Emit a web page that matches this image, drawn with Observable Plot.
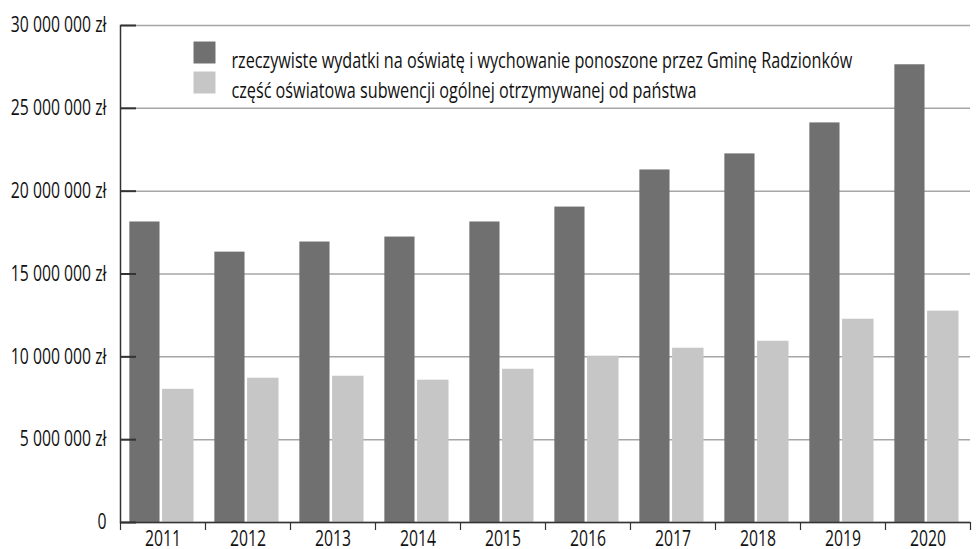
<!DOCTYPE html>
<html>
<head>
<meta charset="utf-8">
<script src="https://cdn.jsdelivr.net/npm/d3@7"></script>
<script src="https://cdn.jsdelivr.net/npm/@observablehq/plot@0.6"></script>
<style>
  html, body { margin: 0; padding: 0; background: #fff; }
  #chart svg { font-family: "Open Sans", "Liberation Sans", sans-serif; }
</style>
</head>
<body>
<div id="chart"></div>
<script>
// ---- data ----
const years = [2011, 2012, 2013, 2014, 2015, 2016, 2017, 2018, 2019, 2020];
const expenses = [18140000, 16320000, 16930000, 17230000, 18140000, 19040000, 21280000, 22250000, 24120000, 27630000];
const subsidy = [8040000, 8710000, 8830000, 8590000, 9250000, 10040000, 10520000, 10940000, 12270000, 12760000];
const seriesNames = [
  "rzeczywiste wydatki na oświatę i wychowanie ponoszone przez Gminę Radzionków",
  "część oświatowa subwencji ogólnej otrzymywanej od państwa"
];
const yTicks = [0, 5000000, 10000000, 15000000, 20000000, 25000000, 30000000];

// ---- styles ----
const colors = ["#707070", "#c6c6c6"];
const offsets = [[-0.39, -0.035], [-0.005, 0.365]];
const axisColor = "#333";
const gridColor = "#a6a6a6";
const fontSize = 21;
const legendFontSize = 21.6;
const condense = 0.75;

const rows = years.flatMap((year, i) => [
  {year, s: 0, value: expenses[i]},
  {year, s: 1, value: subsidy[i]}
]);
const boundaries = [years[0] - 0.5, ...years.map(y => y + 0.5)];
const fmtY = d => d === 0 ? "0" : d3.format(",")(d).replace(/,/g, " ") + " zł";

const legendMarks = seriesNames.flatMap((name, i) => [
  Plot.dot([name], {frameAnchor: "top-left", dx: 84, dy: 27 + i * 30, symbol: "square", r: 12.4, fill: colors[i], stroke: "none"}),
  Plot.text([name], {frameAnchor: "top-left", dx: 111, dy: 27 + i * 30, text: d => d, textAnchor: "start", fontSize: legendFontSize, fill: "#111"})
]);

const chart = Plot.plot({
  width: 977,
  height: 549,
  marginLeft: 120,
  marginRight: 7,
  marginTop: 25,
  marginBottom: 27,
  x: {type: "linear", domain: [boundaries[0], boundaries[boundaries.length - 1]], axis: null},
  y: {domain: [0, 30000000], axis: null},
  marks: [
    Plot.gridY(yTicks, {stroke: gridColor, strokeOpacity: 1, strokeWidth: 1.5}),
    Plot.rectY(rows, {
      x1: d => d.year + offsets[d.s][0],
      x2: d => d.year + offsets[d.s][1],
      y1: 0,
      y2: "value",
      fill: d => colors[d.s]
    }),
    Plot.axisY(yTicks, {anchor: "left", label: null, tickSize: 0, tickPadding: 14, tickFormat: fmtY, fontSize, fill: "#111"}),
    Plot.axisY(yTicks, {anchor: "right", label: null, frameAnchor: "left", tickSize: 15, text: null, stroke: axisColor, strokeWidth: 2}),
    Plot.frame({anchor: "left", stroke: axisColor, strokeWidth: 1.5}),
    Plot.ruleY([0], {stroke: axisColor, strokeWidth: 1.5}),
    Plot.axisX(boundaries, {anchor: "bottom", label: null, tickSize: 8, tickFormat: () => "", stroke: axisColor, strokeWidth: 1.2}),
    Plot.axisX(years, {anchor: "bottom", label: null, tickSize: 0, tickPadding: 9, tickFormat: d => String(d), fontSize, fill: "#111"}),
    ...legendMarks
  ]
});
document.getElementById("chart").appendChild(chart);
// emulate the condensed typeface of the original
chart.querySelectorAll("text").forEach(t => {
  const w = t.getComputedTextLength();
  if (w > 0) {
    t.setAttribute("textLength", (w * condense).toFixed(1));
    t.setAttribute("lengthAdjust", "spacingAndGlyphs");
  }
});
</script>
</body>
</html>
